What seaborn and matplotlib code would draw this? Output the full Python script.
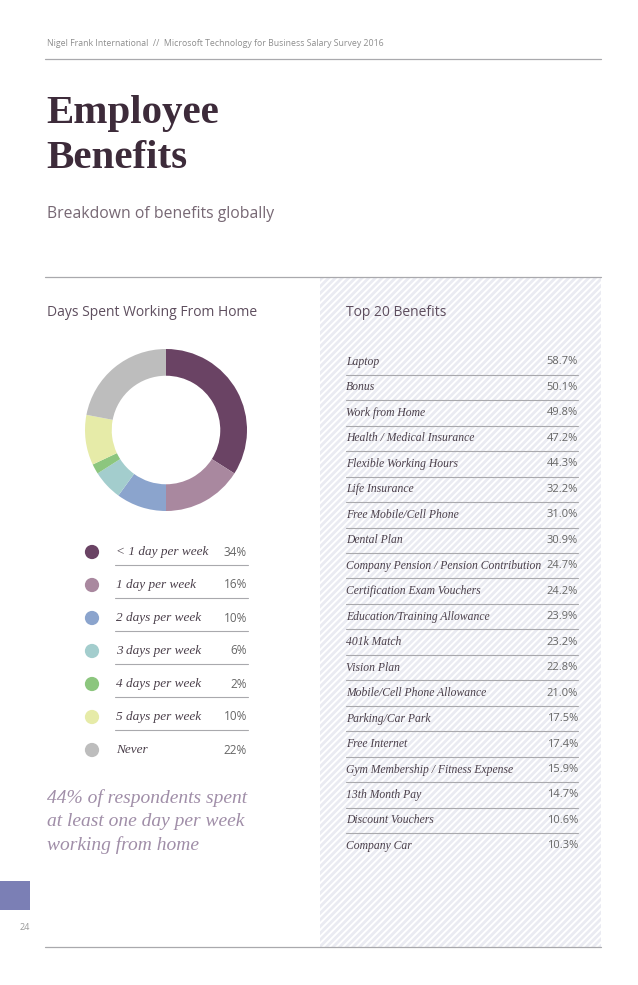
import numpy as np
import pandas as pd
import seaborn as sns
import matplotlib.pyplot as plt
from matplotlib.patches import Rectangle

# Days spent working from home (donut + legend)
wfh_labels = ['< 1 day per week', '1 day per week', '2 days per week', '3 days per week',
              '4 days per week', '5 days per week', 'Never']
wfh_values = [34, 16, 10, 6, 2, 10, 22]
wfh_colors = ['#6a4364', '#a9889f', '#8ba4cd', '#a3cdcd', '#8cc67e', '#e6eba8', '#bdbdbd']

# Top 20 benefits
benefit_names = ['Laptop', 'Bonus', 'Work from Home', 'Health / Medical Insurance',
                 'Flexible Working Hours', 'Life Insurance', 'Free Mobile/Cell Phone',
                 'Dental Plan', 'Company Pension / Pension Contribution',
                 'Certification Exam Vouchers', 'Education/Training Allowance',
                 '401k Match', 'Vision Plan', 'Mobile/Cell Phone Allowance',
                 'Parking/Car Park', 'Free Internet', 'Gym Membership / Fitness Expense',
                 '13th Month Pay', 'Discount Vouchers', 'Company Car']
benefit_values = [58.7, 50.1, 49.8, 47.2, 44.3, 32.2, 31.0, 30.9, 24.7, 24.2,
                  23.9, 23.2, 22.8, 21.0, 17.5, 17.4, 15.9, 14.7, 10.6, 10.3]

W, H = 638, 985
sns.set_theme(style='white')
plt.rcParams['font.family'] = ['Open Sans', 'DejaVu Sans']
plt.rcParams['hatch.linewidth'] = 2.0

SERIF = 'Liberation Serif'
PLUM = '#3d2b3a'
LINE = '#a9a9ad'

fig = plt.figure(figsize=(W / 100, H / 100), dpi=100)
bg = fig.add_axes([0, 0, 1, 1])

# hatched panel on the right
bg.add_patch(Rectangle((320, 277), 281, 670, facecolor='white', edgecolor='#eaebf2',
                       linewidth=0, hatch='/////', zorder=0))

# header
bg.text(47, 43, 'Nigel Frank International  //  Microsoft Technology for Business Salary Survey 2016',
        fontsize=6.3, color='#8e8e8e', va='center', ha='left')
bg.plot([45, 601], [59, 59], color=LINE, lw=0.9)

# title
bg.text(46, 123, 'Employee', family=SERIF, fontweight='bold', fontsize=29.5, color=PLUM, va='baseline')
bg.text(46, 168, 'Benefits', family=SERIF, fontweight='bold', fontsize=29.5, color=PLUM, va='baseline')
bg.text(47, 218, 'Breakdown of benefits globally', fontsize=11.3, color='#776874', va='baseline')
bg.plot([45, 601], [277, 277], color=LINE, lw=0.9)

# section titles
bg.text(47, 316, 'Days Spent Working From Home', fontsize=10, color='#5e4e5e', va='baseline')
bg.text(346, 316, 'Top 20 Benefits', fontsize=10, color='#5e4e5e', va='baseline')

# legend with dots
legend_y = [552 + i * 33 for i in range(len(wfh_labels))]
leg = pd.DataFrame({'x': 92, 'y': legend_y, 'label': wfh_labels})
sns.scatterplot(data=leg, x='x', y='y', hue='label', palette=wfh_colors, s=105,
                linewidth=0, legend=False, ax=bg, zorder=3)
for i, (lab, val) in enumerate(zip(wfh_labels, wfh_values)):
    y = legend_y[i]
    bg.text(116, y, lab, family=SERIF, style='italic', fontsize=9.5, color='#4a3f4a', va='center')
    bg.text(247, y, f'{val}%', fontsize=8.5, color='#666666', va='center', ha='right')
    if i < len(wfh_labels) - 1:
        bg.plot([115, 248], [y + 13, y + 13], color=LINE, lw=0.8)

# quote
for k, line in enumerate(['44% of respondents spent', 'at least one day per week', 'working from home']):
    bg.text(47, 803 + k * 23.5, line, family=SERIF, style='italic', fontsize=14,
            color='#a08ea8', va='baseline')

# benefits list
for i, (name, val) in enumerate(zip(benefit_names, benefit_values)):
    y = 362 + i * 25.47
    bg.text(346, y, name, family=SERIF, style='italic', fontsize=8.4, color='#4a3f4a', va='center')
    bg.text(578, y, f'{val:.1f}%', fontsize=8, color='#666666', va='center', ha='right')
    if i < len(benefit_names) - 1:
        bg.plot([346, 578], [y + 12.7, y + 12.7], color=LINE, lw=0.8)

# footer
bg.add_patch(Rectangle((0, 881), 30, 29, facecolor='#7b7fb5', linewidth=0))
bg.text(20, 928, '24', fontsize=6.5, color='#999999', va='center', ha='left')
bg.plot([45, 601], [947, 947], color=LINE, lw=0.9)

bg.set_xlim(0, W)
bg.set_ylim(H, 0)
bg.axis('off')

# donut
pie_ax = fig.add_axes([85 / W, 1 - 511 / H, 162 / W, 162 / H])
pie_ax.pie(wfh_values, colors=wfh_colors, startangle=90, counterclock=False,
           wedgeprops=dict(width=0.33, linewidth=0))
pie_ax.set_xlim(-1, 1)
pie_ax.set_ylim(-1, 1)
pie_ax.set_aspect('equal')
pie_ax.axis('off')

fig.savefig('out.png', dpi=100)
